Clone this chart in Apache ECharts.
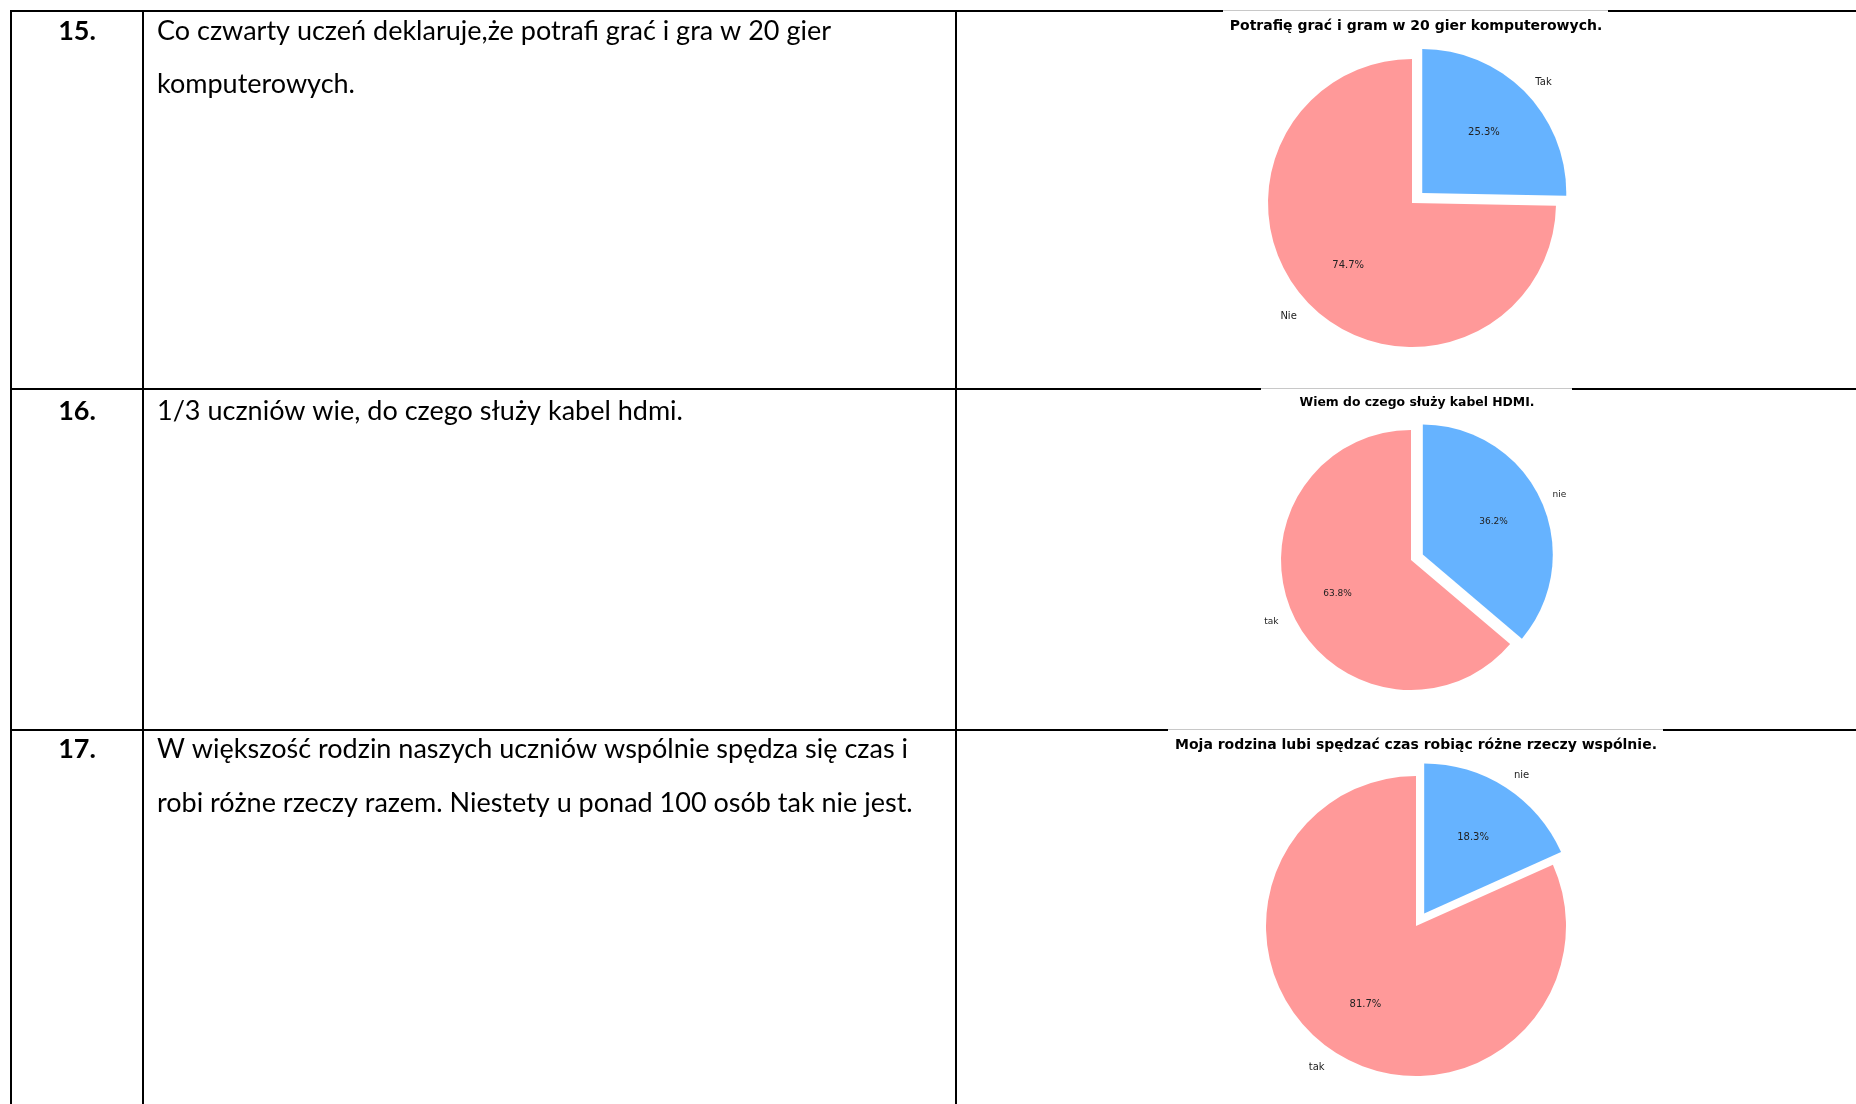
<!DOCTYPE html>
<html>
<head>
<meta charset="utf-8">
<script src="https://cdn.jsdelivr.net/npm/echarts@6/dist/echarts.min.js"></script>
<style>
html,body{margin:0;padding:0;background:#fff;}
#c{width:1856px;height:1104px;}
</style>
</head>
<body>
<div id="c"></div>
<script>
// ---------- data ----------
const rowNumbers = ['15.', '16.', '17.'];
const row15Lines = ['Co czwarty uczeń deklaruje,że potrafi grać i gra w 20 gier', 'komputerowych.'];
const row16Lines = ['1/3 uczniów wie, do czego służy kabel hdmi.'];
const row17Lines = ['W większość rodzin naszych uczniów wspólnie spędza się czas i', 'robi różne rzeczy razem. Niestety u ponad 100 osób tak nie jest.'];
const chartTitles = [
  'Potrafię grać i gram w 20 gier komputerowych.',
  'Wiem do czego służy kabel HDMI.',
  'Moja rodzina lubi spędzać czas robiąc różne rzeczy wspólnie.'
];
const chart1Names = ['Tak', 'Nie'];
const chart1Values = [25.3, 74.7];
const chart2Names = ['nie', 'tak'];
const chart2Values = [36.2, 63.8];
const chart3Names = ['nie', 'tak'];
const chart3Values = [18.3, 81.7];

// ---------- layout / style ----------
const sliceColors = ['#66b3ff', '#ff9999'];
const bodyFont = 'Lato, "Open Sans", sans-serif';
const bodySize = 27;
const pieFont = '"DejaVu Sans", sans-serif';

const tableBottom = 1104;
const colX = [11, 143, 956];
const rowLineY = [11, 389, 730];
const gaps = [[1223, 1608], [1261, 1572], [1168, 1663]];

const rowLayouts = [
  { num: rowNumbers[0], lines: row15Lines, y: [31, 84] },
  { num: rowNumbers[1], lines: row16Lines, y: [411] },
  { num: rowNumbers[2], lines: row17Lines, y: [749, 803] }
];

const pies = [
  { title: chartTitles[0], names: chart1Names, values: chart1Values, cx: 1412, cy: 203, r: 144, tx: 1416, ty: 26, tSize: 14, lSize: 10 },
  { title: chartTitles[1], names: chart2Names, values: chart2Values, cx: 1411, cy: 560, r: 130, tx: 1417, ty: 403, tSize: 12.4, lSize: 9 },
  { title: chartTitles[2], names: chart3Names, values: chart3Values, cx: 1416, cy: 926, r: 150, tx: 1416, ty: 745, tSize: 14, lSize: 10 }
];

// ---------- graphic (table) ----------
const graphics = [];
function line(x1, y1, x2, y2, color, w) {
  graphics.push({ type: 'line', silent: true, z: 0,
    shape: { x1, y1, x2, y2 }, style: { stroke: color, lineWidth: w } });
}
rowLineY.forEach((y, i) => {
  const g = gaps[i];
  line(10, y, g[0], y, '#000', 2);
  line(g[0], y - 0.5, g[1], y - 0.5, '#c8c8c8', 1);
  line(g[1], y, 1856, y, '#000', 2);
});
colX.forEach(x => line(x, 10, x, tableBottom, '#000', 2));

rowLayouts.forEach(r => {
  graphics.push({ type: 'text', silent: true, x: 77, y: r.y[0],
    style: { text: r.num, fontFamily: bodyFont, fontSize: bodySize, fontWeight: 'bold', fill: '#000',
      align: 'center', verticalAlign: 'middle' } });
  r.lines.forEach((t, k) => {
    graphics.push({ type: 'text', silent: true, x: 157, y: r.y[k],
      style: { text: t, fontFamily: bodyFont, fontSize: bodySize, fill: '#000',
        align: 'left', verticalAlign: 'middle' } });
  });
});
pies.forEach(p => {
  graphics.push({ type: 'text', silent: true, x: p.tx, y: p.ty,
    style: { text: p.title, fontFamily: pieFont, fontSize: p.tSize, fontWeight: 'bold', fill: '#000',
      align: 'center', verticalAlign: 'middle' } });
});

// ---------- pie series ----------
const series = [];
pies.forEach(p => {
  const common = {
    type: 'pie', center: [p.cx, p.cy], startAngle: 90, clockwise: true,
    selectedMode: 'multiple', selectedOffset: 0.1 * p.r, animation: false, silent: true,
    emphasis: { disabled: true }, percentPrecision: 1, avoidLabelOverlap: false,
    labelLine: { show: false }
  };
  const mk = (colorFn) => p.values.map((v, k) => ({
    name: p.names[k], value: v, selected: k === 0, itemStyle: { color: colorFn(k), borderWidth: 0 }
  }));
  series.push(Object.assign({}, common, {
    radius: [0, p.r], data: mk(k => sliceColors[k]), label: { show: false }, z: 2
  }));
  series.push(Object.assign({}, common, {
    radius: [0, 1.2 * p.r], data: mk(() => 'rgba(0,0,0,0)'), z: 3, selectedOffset: 0.1 * p.r - 3,
    label: { show: true, position: 'inside', formatter: '{d}%', fontFamily: pieFont, fontSize: p.lSize, color: '#222' }
  }));
  series.push(Object.assign({}, common, {
    radius: [0, 2.2 * p.r], data: mk(() => 'rgba(0,0,0,0)'), z: 3, selectedOffset: 0.1 * p.r - 3,
    label: { show: true, position: 'inside', formatter: '{b}', fontFamily: pieFont, fontSize: p.lSize, color: '#222' },
    labelLayout: function (params) {
      const rc = params.labelRect;
      const c = rc.x + rc.width / 2;
      return { dx: c < p.cx ? -rc.width / 2 : rc.width / 2 };
    }
  }));
});

const chart = echarts.init(document.getElementById('c'), null, { renderer: 'canvas' });
chart.setOption({
  backgroundColor: '#fff',
  animation: false,
  graphic: { elements: graphics },
  series: series
});
</script>
</body>
</html>
